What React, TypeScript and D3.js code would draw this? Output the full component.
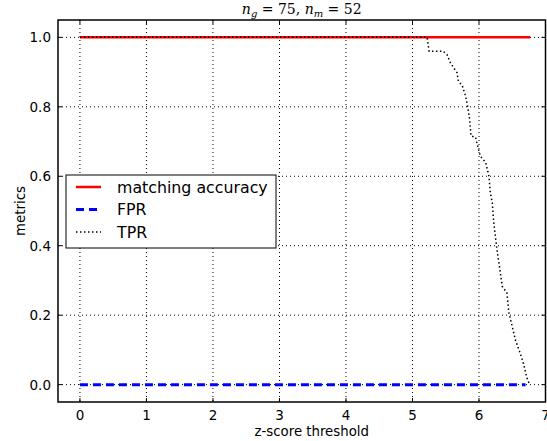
import React from 'react';
import * as d3 from 'd3';

// z-score threshold vs. metrics
const xTicks = [0, 1, 2, 3, 4, 5, 6, 7];
const yTicks = [0, 0.2, 0.4, 0.6, 0.8, 1.0];

const accThresholds = [0, 6.77];
const accValues = [1, 1];

const fprThresholds = [0, 6.7];
const fprValues = [0, 0];

const tprThresholds = [0, 5.22, 5.25, 5.46, 5.52, 5.57, 5.67, 5.69, 5.75, 5.8, 5.83, 5.86, 5.88, 5.95, 5.98, 6.02, 6.1, 6.15, 6.17, 6.2, 6.22, 6.27, 6.3, 6.35, 6.42, 6.45, 6.5, 6.55, 6.62, 6.67, 6.72, 6.76];
const tprValues = [1, 1, 0.96, 0.96, 0.95, 0.927, 0.898, 0.874, 0.86, 0.83, 0.8, 0.764, 0.716, 0.712, 0.687, 0.658, 0.64, 0.6, 0.553, 0.524, 0.47, 0.389, 0.35, 0.283, 0.264, 0.206, 0.167, 0.127, 0.09, 0.06, 0.02, 0.0];

const legendItems = [
  { label: 'matching accuracy', color: '#ff0000', dash: '', width: 2.5 },
  { label: 'FPR', color: '#0000ff', dash: '8,5', width: 3 },
  { label: 'TPR', color: '#000000', dash: '1.5,2.5', width: 1.5 },
];

const W = 547;
const H = 441;
const margin = { left: 58, right: 1.5, top: 20, bottom: 39 };
const font = '"DejaVu Sans", sans-serif';

export default function App() {
  const x = d3.scaleLinear().domain([-0.33, 7]).range([margin.left, W - margin.right]);
  const y = d3.scaleLinear().domain([-0.05, 1.05]).range([H - margin.bottom, margin.top]);
  const [x0, x1] = x.range();
  const [y0, y1] = y.range();

  const line = d3.line<[number, number]>().x(d => x(d[0])).y(d => y(d[1]));
  const zip = (a: number[], b: number[]) => a.map((v, i) => [v, b[i]] as [number, number]);

  const tickLen = 4;

  return (
    <div style={{ position: 'absolute', left: 0, top: 0 }}>
      <svg width={W} height={H} style={{ display: 'block', background: '#fff' }}>
        {/* grid */}
        {xTicks.map(t => (
          <line key={'gx' + t} x1={x(t)} x2={x(t)} y1={y1} y2={y0}
            stroke="#000" strokeWidth={1} strokeDasharray="1,3" />
        ))}
        {yTicks.map(t => (
          <line key={'gy' + t} x1={x0} x2={x1} y1={y(t)} y2={y(t)}
            stroke="#000" strokeWidth={1} strokeDasharray="1,3" />
        ))}

        {/* series */}
        <path d={line(zip(accThresholds, accValues)) || ''} fill="none" stroke="#ff0000" strokeWidth={2.5} />
        <path d={line(zip(fprThresholds, fprValues)) || ''} fill="none" stroke="#0000ff" strokeWidth={3} strokeDasharray="8,5" />
        <path d={line(zip(tprThresholds, tprValues)) || ''} fill="none" stroke="#000" strokeWidth={1.5} strokeDasharray="1.5,2.5" />

        {/* ticks */}
        {xTicks.map(t => (
          <g key={'tx' + t}>
            <line x1={x(t)} x2={x(t)} y1={y0} y2={y0 - tickLen} stroke="#000" strokeWidth={1} />
            <line x1={x(t)} x2={x(t)} y1={y1} y2={y1 + tickLen} stroke="#000" strokeWidth={1} />
            <text x={x(t)} y={y0 + 18} textAnchor="middle" fontFamily={font} fontSize={13.5}>{t}</text>
          </g>
        ))}
        {yTicks.map(t => (
          <g key={'ty' + t}>
            <line x1={x0} x2={x0 + tickLen} y1={y(t)} y2={y(t)} stroke="#000" strokeWidth={1} />
            <line x1={x1} x2={x1 - tickLen} y1={y(t)} y2={y(t)} stroke="#000" strokeWidth={1} />
            <text x={x0 - 7} y={y(t) + 5} textAnchor="end" fontFamily={font} fontSize={13.5}>{t.toFixed(1)}</text>
          </g>
        ))}

        {/* frame */}
        <rect x={x0} y={y1} width={x1 - x0} height={y0 - y1} fill="none" stroke="#000" strokeWidth={1.5} />

        {/* labels */}
        <text x={(x0 + x1) / 2 + 10} y={436} textAnchor="middle" fontFamily={font} fontSize={13.3}>z-score threshold</text>
        <text transform={`translate(25,${(y0 + y1) / 2}) rotate(-90)`} textAnchor="middle" fontFamily={font} fontSize={13.3}>metrics</text>
        <text x={(x0 + x1) / 2} y={14} textAnchor="middle" fontFamily='"DejaVu Serif", serif' fontSize={14}>
          <tspan fontStyle="italic">n</tspan>
          <tspan fontStyle="italic" fontSize={10} dy={3}>g</tspan>
          <tspan dy={-3}> = 75, </tspan>
          <tspan fontStyle="italic">n</tspan>
          <tspan fontStyle="italic" fontSize={10} dy={3}>m</tspan>
          <tspan dy={-3}> = 52</tspan>
        </text>

        {/* legend */}
        <g transform="translate(66,175)">
          <rect x={0} y={0} width={210} height={73} fill="#fff" stroke="#000" strokeWidth={1} />
          {legendItems.map((it, i) => (
            <g key={it.label} transform={`translate(0,${12 + i * 22.5})`}>
              <line x1={10} x2={35} y1={0} y2={0} stroke={it.color} strokeWidth={it.width} strokeDasharray={it.dash || undefined} />
              <text x={51} y={5.5} fontFamily={font} fontSize={15.8}>{it.label}</text>
            </g>
          ))}
        </g>
      </svg>
    </div>
  );
}
